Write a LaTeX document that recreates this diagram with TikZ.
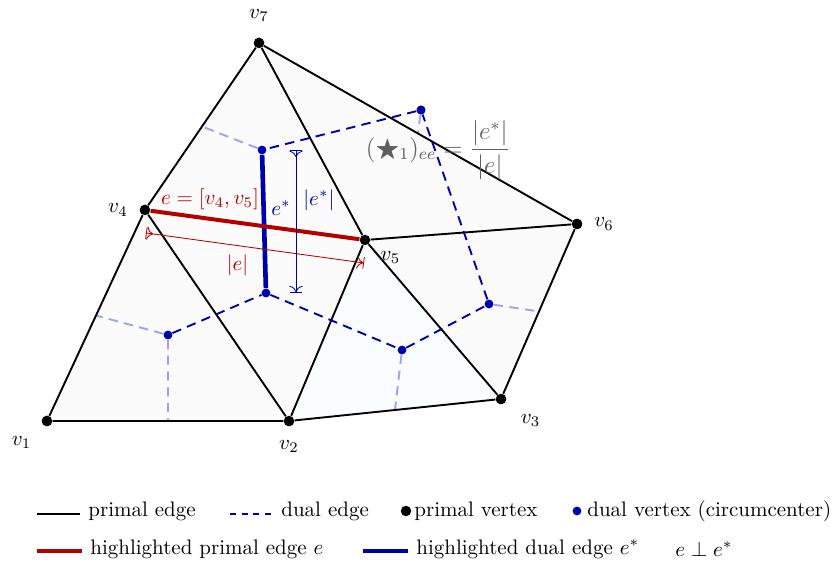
\documentclass[tikz,border=0pt]{standalone}
\usepackage{amsmath,amssymb}
\usepackage{tikz}
\usetikzlibrary{arrows.meta,positioning,calc}
\definecolor{dualBlue}{RGB}{0,0,170}
\definecolor{lightDual}{RGB}{160,160,250}
\definecolor{edgeRed}{RGB}{180,0,0}
\definecolor{hodgeGray}{RGB}{95,95,95}

\begin{document}
\begin{tikzpicture}[x=0.01676cm, y=-0.01676cm,
  every node/.style={font=\normalsize},
  pvert/.style={circle, fill=black, inner sep=0pt, minimum size=5pt},
  dvert/.style={circle, fill=dualBlue, inner sep=0pt, minimum size=4.2pt},
  primal/.style={black, line width=0.9pt},
  dualedge/.style={dualBlue, line width=0.9pt, dash pattern=on 4.5pt off 3pt},
  dualbd/.style={lightDual, line width=0.9pt, dash pattern=on 4.5pt off 3pt},
  tri/.style={fill=gray!3, draw=none},
  dim/.style={arrows={{Bar[width=5.5pt]>}-{>Bar[width=5.5pt]}},
              line width=0.4pt, >={To[length=3pt]}},
]
\useasboundingbox (0,0) rectangle (833,562);

% primal vertices
\node[pvert] (v1) at (47,421) {};
\node[pvert] (v2) at (289,421) {};
\node[pvert] (v3) at (501,399) {};
\node[pvert] (v4) at (145,210) {};
\node[pvert] (v5) at (365,240) {};
\node[pvert] (v6) at (577,224) {};
\node[pvert] (v7) at (259,43) {};

% dual vertices (circumcenters)
\node[dvert] (c124) at (168,335) {};
\node[dvert] (c245) at (266,293) {};
\node[dvert] (c457) at (262,150) {};
\node[dvert] (c567) at (421,110) {};
\node[dvert] (c356) at (489,304) {};
\node[dvert] (c235) at (402,350) {};

% boundary edge midpoints
\coordinate (m12) at ($(v1)!0.5!(v2)$);
\coordinate (m14) at ($(v1)!0.5!(v4)$);
\coordinate (m47) at ($(v4)!0.5!(v7)$);
\coordinate (m67) at ($(v6)!0.5!(v7)$);
\coordinate (m36) at ($(v3)!0.5!(v6)$);
\coordinate (m23) at ($(v2)!0.5!(v3)$);

% triangles
\fill[tri] (v1.center) -- (v2.center) -- (v4.center) -- cycle;
\fill[tri] (v2.center) -- (v5.center) -- (v4.center) -- cycle;
\fill[tri] (v4.center) -- (v5.center) -- (v7.center) -- cycle;
\fill[tri] (v5.center) -- (v6.center) -- (v7.center) -- cycle;
\fill[tri] (v5.center) -- (v3.center) -- (v6.center) -- cycle;
\fill[fill=cyan!2] (v2.center) -- (v3.center) -- (v5.center) -- cycle;

% boundary dual edges
\draw[dualbd] (c124) -- (m12);
\draw[dualbd] (c124) -- (m14);
\draw[dualbd] (c457) -- (m47);
\draw[dualbd] (c567) -- (m67);
\draw[dualbd] (c356) -- (m36);
\draw[dualbd] (c235) -- (m23);

% primal edges
\draw[primal] (v1) -- (v2) -- (v3);
\draw[primal] (v1) -- (v4) -- (v7) -- (v6) -- (v3);
\draw[primal] (v2) -- (v4);
\draw[primal] (v2) -- (v5) -- (v3);
\draw[primal] (v5) -- (v7);
\draw[primal] (v5) -- (v6);

% dual edges
\draw[dualedge] (c124) -- (c245) -- (c235) -- (c356) -- (c567) -- (c457);

% highlighted pair
\draw[dualBlue, line width=2.2pt] (c457) -- (c245);
\draw[edgeRed, line width=1.9pt] (v4) -- (v5);

% redraw dots on top
\foreach \v in {v1,v2,v3,v4,v5,v6,v7}
  \fill (\v) circle (2.5pt);
\foreach \c in {c124,c245,c457,c567,c356,c235}
  \fill[dualBlue] (\c) circle (2.1pt);

% vertex labels
\node[above=4pt of v7] (l7) {$v_7$};
\node[left=2pt of v4] (l4) {$v_4$};
\node[below right=0pt and 2pt of v5] (l5) {$v_5$};
\node[right=2pt of v6] (l6) {$v_6$};
\node[below right=2pt and 4pt of v3] (l3) {$v_3$};
\node[below=3pt of v2] (l2) {$v_2$};
\node[below left=2pt and 2pt of v1] (l1) {$v_1$};

% edge labels
\node[text=edgeRed] (elab) at (210,199) {$e=[v_4,v_5]$};
\node[text=dualBlue] (estar) at (281,208) {$e^*$};

% length markers
\draw[dim, edgeRed] ($(v4)+(1,23)$) -- ($(v5)+(-1,23)$)
  node[pos=0.42, below=1pt, text=edgeRed] (elen) {$|e|$};
\draw[dim, dualBlue] ($(c457)+(34,0)$) -- ($(c245)+(30,0)$)
  node[pos=0.35, right=0pt, text=dualBlue] (eslen) {$|e^*|$};

% hodge star entry
\node[text=hodgeGray, font=\large] (hodge) at (438,150)
  {$(\bigstar_1)_{ee}=\dfrac{|e^*|}{|e|}$};

% legend
\draw[black, line width=0.8pt] (37,514) -- (80,514);
\node[right] (lg1) at (81,511) {primal edge};
\draw[dualBlue, line width=0.8pt, dash pattern=on 3pt off 2.5pt] (230,514) -- (275,514);
\node[right] (lg2) at (274,511) {dual edge};
\fill (406,511) circle (2.5pt);
\node[right] (lg3) at (407,511) {primal vertex};
\fill[dualBlue] (577,511) circle (2.1pt);
\node[right] (lg4) at (580,511) {dual vertex (circumcenter)};
\draw[edgeRed, line width=2pt] (37,551) -- (82,551);
\node[right] (lg5) at (83,549) {highlighted primal edge $e$};
\draw[dualBlue, line width=2pt] (363,551) -- (408,551);
\node[right] (lg6) at (409,549) {highlighted dual edge $e^*$};
\node[right] (lg7) at (668,549) {$e\perp e^*$};
\end{tikzpicture}
\end{document}
